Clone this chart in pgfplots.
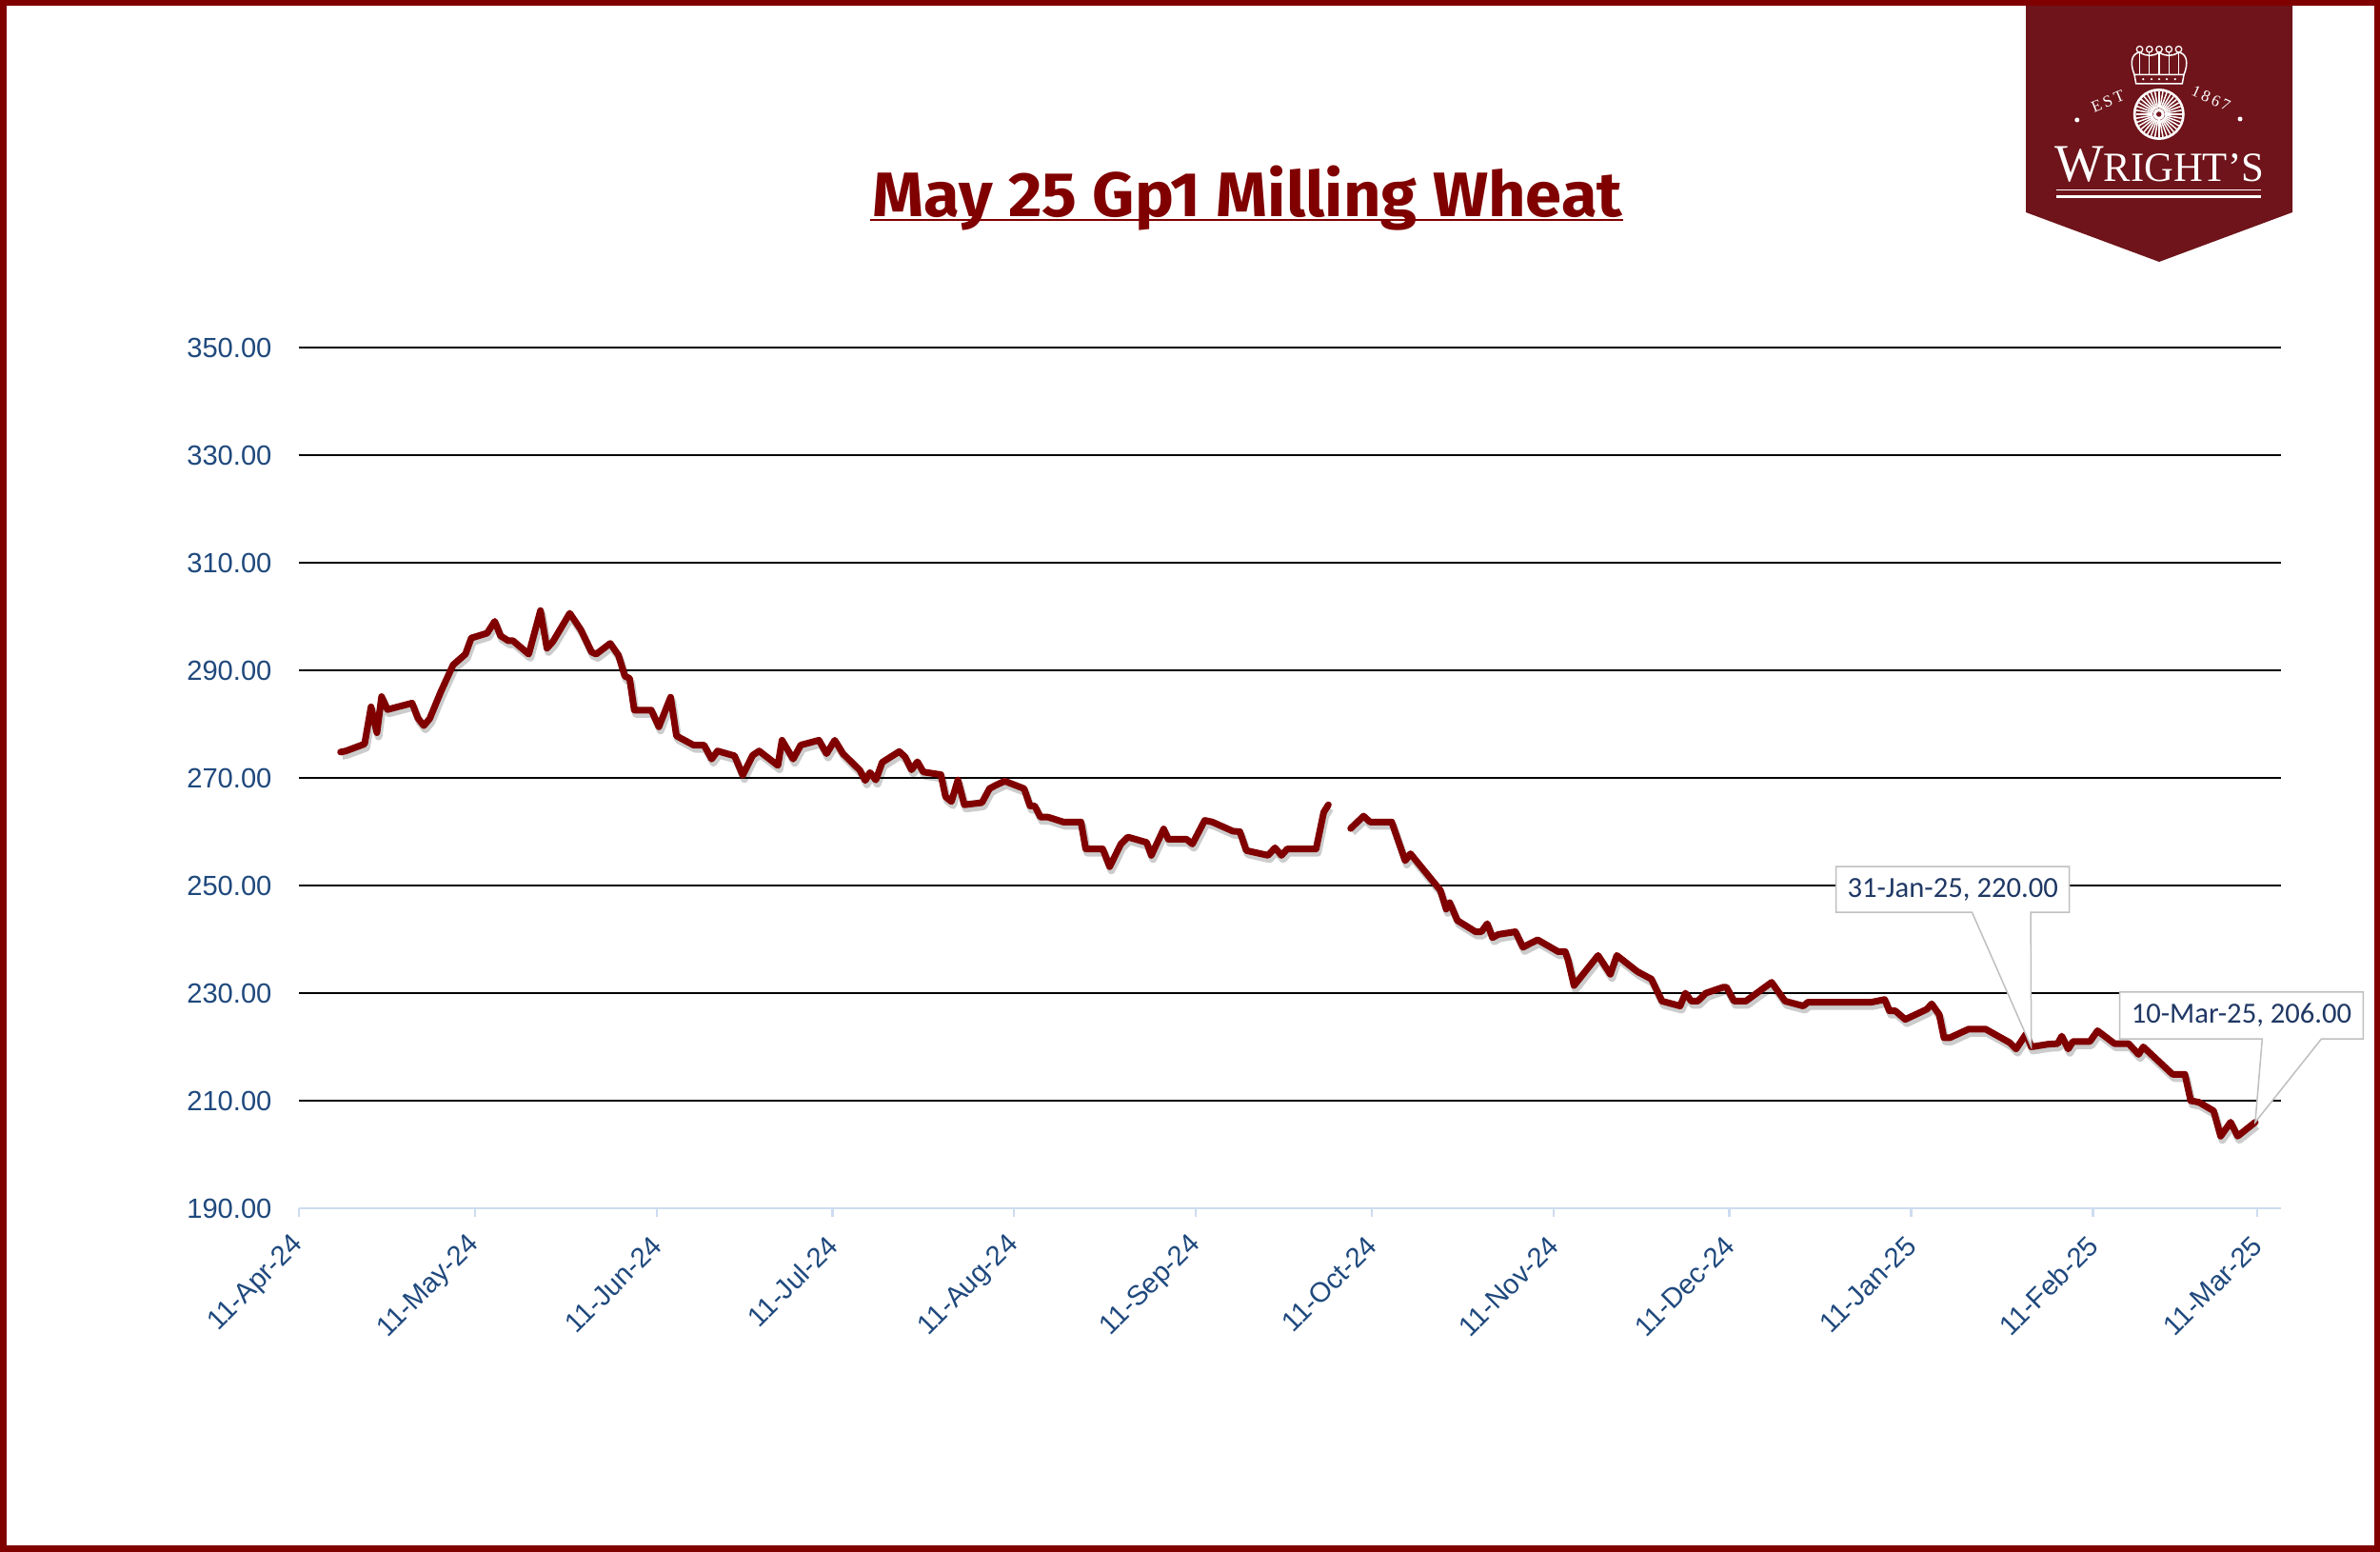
\documentclass[border=0pt]{standalone}
\usepackage{fontspec}
\setmainfont{Liberation Sans}
\newfontfamily\titlefont{Fira Sans}
\newfontfamily\annfont{Carlito}
\newfontfamily\logofont{Liberation Serif}
\usepackage{graphicx}
\usepackage{pgfplots}
\usepackage{pgfplotstable}
\pgfplotsset{compat=1.18}

\definecolor{wred}{RGB}{128,0,0}
\definecolor{logored}{RGB}{110,20,26}
\definecolor{ticknavy}{RGB}{31,73,125}
\definecolor{annnavy}{RGB}{31,56,100}
\definecolor{axisblue}{RGB}{205,220,240}
\definecolor{boxgray}{RGB}{191,191,191}

% x = days since 11-Apr-24
\pgfplotstableread{
x y
7.1 274.8
8.0 275.0
11.2 276.3
12.3 283.2
13.3 278.4
14.1 285.1
15.1 282.7
19.3 283.9
20.3 281.1
21.3 279.7
22.3 281.0
24.2 286.0
26.3 291.0
28.4 293.0
29.4 296.0
32.1 296.9
33.4 299.1
34.4 296.4
35.7 295.5
36.5 295.5
39.2 293.0
41.2 301.1
42.3 294.1
43.3 295.3
46.2 300.6
48.1 297.5
49.9 293.4
50.7 293.0
53.1 295.0
54.5 292.8
55.6 288.9
56.4 288.5
57.2 282.6
60.1 282.6
61.4 279.5
63.4 285.0
64.4 277.8
67.3 276.1
69.1 276.1
70.4 273.5
71.4 275.0
74.3 274.1
75.7 270.5
77.4 274.2
78.5 275.0
81.7 272.3
82.4 277.0
84.3 273.5
85.6 276.1
88.7 277.0
90.0 274.5
91.4 277.0
92.8 274.5
95.7 271.4
96.6 269.5
97.4 271.0
98.4 269.6
99.5 272.9
102.4 274.9
103.4 273.9
104.5 271.5
105.5 273.0
106.5 271.1
109.5 270.6
110.3 266.5
111.3 265.6
112.4 269.6
113.5 265.0
116.5 265.4
117.8 268.0
118.8 268.6
120.4 269.4
123.7 268.0
124.7 264.8
125.5 264.8
126.5 262.7
127.8 262.7
130.4 261.8
133.4 261.8
134.2 256.8
137.1 256.8
138.3 253.5
140.2 257.7
141.4 259.0
144.6 258.0
145.4 255.6
147.5 260.5
148.3 258.6
151.4 258.6
152.4 257.7
154.5 262.1
155.8 261.8
159.3 260.1
160.5 260.0
161.6 256.5
165.3 255.6
166.5 257.0
167.6 255.6
168.6 256.8
173.5 256.8
174.8 263.6
175.6 265.0
}\segA

\pgfplotstableread{
x y
179.4 260.6
181.6 262.9
182.7 261.8
186.4 261.8
188.7 254.6
189.6 255.9
193.8 250.3
194.7 249.1
195.7 245.6
196.3 246.8
197.6 243.5
200.7 241.4
201.7 241.4
202.7 242.9
203.6 240.3
204.6 240.9
207.5 241.4
208.8 238.5
209.8 239.1
211.3 239.9
214.8 237.7
216.0 237.7
216.5 236.1
217.5 231.4
221.6 237.0
223.7 233.5
224.8 237.0
228.3 234.0
230.7 232.6
232.5 228.5
235.6 227.6
236.5 230.0
237.5 228.5
238.6 228.5
240.0 230.0
243.0 231.1
243.5 231.1
244.8 228.5
246.8 228.5
251.2 232.0
253.5 228.5
256.6 227.6
257.4 228.3
268.2 228.3
270.5 228.8
271.3 226.7
272.3 226.7
274.0 225.1
277.7 227.0
278.5 228.0
279.8 226.0
280.6 221.7
281.6 221.7
284.8 223.3
287.7 223.3
291.8 220.8
292.9 219.6
294.6 222.4
295.5 220.0
298.4 220.5
300.0 220.6
300.7 222.0
301.8 219.6
302.6 221.0
305.5 221.0
306.8 223.0
308.0 222.0
309.7 220.6
312.1 220.6
313.8 218.6
314.6 220.0
319.6 214.9
321.7 214.9
322.7 210.0
324.1 209.7
326.6 208.1
327.8 203.4
329.5 206.0
330.7 203.4
333.7 206.0
}\segB

\begin{document}
\begin{tikzpicture}[x=1bp,y=1bp]
\useasboundingbox (0,0) rectangle (1000,652);
\fill[white] (0,0) rectangle (1000,652);

% title
\node[anchor=base, inner sep=0pt, text=wred] at (524.2,561.1)
  {\resizebox{315bp}{\height}{\titlefont\bfseries\fontsize{26.5}{30}\selectfont May 25 Gp1 Milling Wheat}};
\draw[wred, line width=0.9bp] (365.6,559.7) -- (681.8,559.7);

\begin{axis}[
  at={(125.6bp,144.4bp)}, anchor=south west,
  scale only axis, width=832.8bp, height=361.6bp,
  xmin=0, xmax=338.1, ymin=190, ymax=350,
  axis lines*=left,
  x axis line style={draw=axisblue, line width=0.9bp},
  y axis line style={draw=none},
  ytick={190,210,...,350},
  ymajorgrids, major grid style={black, line width=0.7bp},
  xtick={0,30,61,91,122,153,183,214,244,275,306,334},
  xticklabels={11-Apr-24,11-May-24,11-Jun-24,11-Jul-24,11-Aug-24,11-Sep-24,11-Oct-24,11-Nov-24,11-Dec-24,11-Jan-25,11-Feb-25,11-Mar-25},
  tick align=outside,
  xtick style={draw=axisblue, line width=0.9bp},
  major tick length=3.7bp,
  ytick style={draw=none},
  tick label style={font=\fontsize{11.7}{13}\selectfont, text=ticknavy},
  xticklabel style={xshift=2.6bp, yshift=-7.6bp, rotate=45, anchor=east},
  yticklabel style={xshift=-4.2bp, /pgf/number format/.cd, fixed, fixed zerofill, precision=2, assume math mode=true},
  clip=false,
]
% shadows
\addplot[black, opacity=0.2, line width=3.2bp, line join=round, xshift=0.7bp, yshift=-1.6bp] table {\segA};
\addplot[black, opacity=0.2, line width=3.2bp, line join=round, xshift=0.7bp, yshift=-1.6bp] table {\segB};
% series
\addplot[wred, line width=2.8bp, line join=round, line cap=round] table {\segA};
\addplot[wred, line width=2.8bp, line join=round, line cap=round] table {\segB};

% callouts
\draw[boxgray, fill=white, line width=0.6bp]
  (axis cs:262.2,253.5) -- (axis cs:302.0,253.5) -- (axis cs:302.0,245.0) -- (axis cs:295.4,245.0)
  -- (axis cs:295.5,220.0) -- (axis cs:285.4,245.0) -- (axis cs:262.2,245.0) -- cycle;
\node[font=\annfont\fontsize{12.3}{14}\selectfont, text=annnavy] at (axis cs:282.1,249.25) {31-Jan-25, 220.00};
\draw[boxgray, fill=white, line width=0.6bp]
  (axis cs:310.6,230.2) -- (axis cs:352.1,230.2) -- (axis cs:352.1,221.5) -- (axis cs:345.0,221.5)
  -- (axis cs:333.7,206.0) -- (axis cs:334.9,221.5) -- (axis cs:310.6,221.5) -- cycle;
\node[font=\annfont\fontsize{12.3}{14}\selectfont, text=annnavy] at (axis cs:331.35,225.85) {10-Mar-25, 206.00};
\end{axis}

% logo
\fill[logored] (851.2,652) -- (963.2,652) -- (963.2,562.8) -- (907.2,542) -- (851.2,562.8) -- cycle;
% crown
\draw[white, line width=0.6bp] (897.5,616.8) -- (916.9,616.8) -- (917.6,620.6) -- (896.8,620.6) -- cycle;
\foreach \cx in {899.0,903.1,907.2,911.3,915.4} {
  \draw[white, line width=0.55bp] (\cx,620.6) -- (\cx,630.0);
  \draw[white, line width=0.5bp] (\cx,631.3) circle (1.3);
}
\draw[white, line width=0.6bp] (896.8,620.6) .. controls (894.8,625.5) and (895.5,629.5) .. (899.0,630.0)
  .. controls (902,628.2) and (904.5,628.2) .. (907.2,630.0)
  .. controls (910,628.2) and (912.5,628.2) .. (915.4,630.0)
  .. controls (918.9,629.5) and (919.6,625.5) .. (917.6,620.6);
\foreach \cx in {900.5,904.0,907.2,910.4,913.9} { \fill[white] (\cx,618.7) circle (0.5); }
% wheel
\fill[white] (907.1,604) circle (10.8);
\fill[logored] (907.1,604) circle (9.7);
\foreach \a in {0,10,...,350} {
  \draw[white, line width=0.6bp] (907.1,604) ++(\a:2.6) -- ++(\a:7.1);
}
\fill[white] (907.1,604) circle (2.4);
\fill[logored] (907.1,604) circle (1.1);
% est 1867
\node[text=white, rotate=22, font=\logofont\fontsize{6.8}{7}\selectfont] at (885.6,609.4) {E\,S\,T};
\node[text=white, rotate=-24, font=\logofont\fontsize{6.8}{7}\selectfont] at (929.0,610.6) {1\,8\,6\,7};
\fill[white] (872.7,601.6) circle (1.0);
\fill[white] (941.2,602.0) circle (1.0);
% name
\node[anchor=base, inner sep=0pt, text=white] at (907.2,575.7)
  {\resizebox{88bp}{\height}{\logofont\fontsize{22.4}{24}\selectfont W\fontsize{17.5}{20}\selectfont RIGHT’S}};
\draw[white, line width=0.6bp] (864,572.2) -- (950,572.2);
\draw[white, line width=1.0bp] (864,569.3) -- (950,569.3);

% frame
\draw[wred, line width=2.6bp] (1.3,1.3) rectangle (998.7,650.7);
\end{tikzpicture}
\end{document}
